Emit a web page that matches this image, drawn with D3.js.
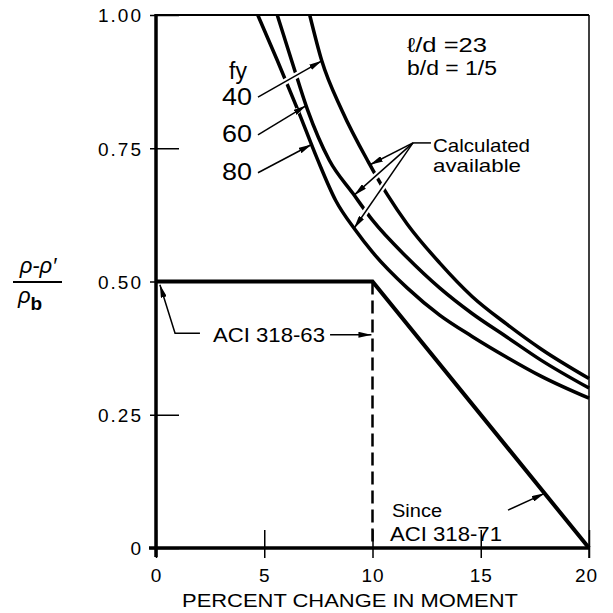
<!DOCTYPE html>
<html>
<head>
<meta charset="utf-8">
<script src="https://cdn.jsdelivr.net/npm/d3@7"></script>
<style>
    body { margin: 0; background: #fff; }
    text { font-family: "Liberation Sans", sans-serif; fill: #000; }
</style>
</head>
<body>
<svg width="613" height="613"></svg>
<script>
var xTicks = [0, 5, 10, 15, 20],
    yTicks = [0, 0.25, 0.5, 0.75, 1.0],
    yTickLabels = ['0', '0.25', '0.50', '0.75', '1.00'];

// calculated available curves
var fy40X = [7.1, 7.65, 8.6, 9.8, 10.7, 11.6, 13.1, 14.6, 16.2, 17.8, 20],
    fy40Y = [1.0, 0.915, 0.82, 0.725, 0.662, 0.608, 0.535, 0.472, 0.42, 0.373, 0.318];
var fy60X = [5.6, 6.3, 7.0, 8.0, 9.1, 10.0, 11.6, 13.1, 14.6, 16.2, 17.8, 20],
    fy60Y = [1.0, 0.91, 0.822, 0.728, 0.665, 0.615, 0.545, 0.488, 0.44, 0.396, 0.352, 0.300];
var fy80X = [4.7, 5.6, 6.55, 7.45, 8.3, 9.2, 10.0, 11.6, 13.1, 14.6, 16.2, 17.8, 20],
    fy80Y = [1.0, 0.915, 0.822, 0.73, 0.652, 0.597, 0.555, 0.488, 0.437, 0.397, 0.358, 0.322, 0.281];

// code limits
var aci71X = [0, 10, 20],
    aci71Y = [0.5, 0.5, 0];
var aci63X = [10, 10],
    aci63Y = [0.5, 0];

var svg = d3.select('svg');

var x = d3.scaleLinear().domain([0, 20]).range([156, 589]),
    y = d3.scaleLinear().domain([0, 1]).range([548, 15]);

function toPoints(xs, ys) {
    return xs.map(function (d, i) { return [d, ys[i]]; });
}

// x on a curve at a given y (for arrow tips)
function xAt(xs, ys, yv) {
    for (var i = 0; i < xs.length - 1; i++) {
        if (ys[i] >= yv && ys[i + 1] <= yv) {
            var t = (ys[i] - yv) / (ys[i] - ys[i + 1]);
            return xs[i] + t * (xs[i + 1] - xs[i]);
        }
    }
    return xs[xs.length - 1];
}

var defs = svg.append('defs');
defs.append('marker')
    .attr('id', 'arrow')
    .attr('viewBox', '0 0 13 6')
    .attr('refX', 13)
    .attr('refY', 3)
    .attr('markerWidth', 13)
    .attr('markerHeight', 6)
    .attr('markerUnits', 'userSpaceOnUse')
    .attr('orient', 'auto')
    .append('path')
    .attr('d', 'M0,0 L13,3 L0,6 Z')
    .attr('fill', '#000');

// frame
svg.append('line')
    .attr('x1', x(0)).attr('x2', x(20))
    .attr('y1', y(1)).attr('y2', y(1))
    .attr('stroke', '#000').attr('stroke-width', 2);
svg.append('line')
    .attr('x1', x(20)).attr('x2', x(20))
    .attr('y1', y(1)).attr('y2', y(0) + 10)
    .attr('stroke', '#000').attr('stroke-width', 1.5);

// axes
var yAxis = svg.append('g')
    .attr('transform', 'translate(' + x(0) + ',0)')
    .call(d3.axisLeft(y).tickValues(yTicks)
        .tickFormat(function (d, i) { return yTickLabels[i]; }));
yAxis.select('.domain').remove();
yAxis.selectAll('.tick line')
    .attr('x1', -6).attr('x2', 23)
    .attr('stroke', '#000').attr('stroke-width', 1.5);
yAxis.selectAll('.tick text')
    .attr('x', -13)
    .attr('dy', '0.36em')
    .style('font-size', '19px')
    .style('letter-spacing', '2px')
    .style('font-family', '"Liberation Sans", sans-serif');

var xAxis = svg.append('g')
    .attr('transform', 'translate(0,' + y(0) + ')')
    .call(d3.axisBottom(x).tickValues(xTicks).tickFormat(d3.format('d')));
xAxis.select('.domain').remove();
xAxis.selectAll('.tick line')
    .attr('y1', -18).attr('y2', 10)
    .attr('stroke', '#000').attr('stroke-width', 1.5);
xAxis.selectAll('.tick text')
    .attr('y', 34).attr('dy', 0)
    .attr('dx', function (d) { return d === 20 ? -3 : 0; })
    .style('font-size', '19px')
    .style('letter-spacing', '1px')
    .style('font-family', '"Liberation Sans", sans-serif');

svg.append('line')
    .attr('x1', x(0)).attr('x2', x(0))
    .attr('y1', y(1) - 1).attr('y2', y(0) + 9)
    .attr('stroke', '#000').attr('stroke-width', 3.5);
svg.append('line')
    .attr('x1', x(0) - 7).attr('x2', x(20))
    .attr('y1', y(0)).attr('y2', y(0))
    .attr('stroke', '#000').attr('stroke-width', 3.5);

// curves
var line = d3.line()
    .x(function (d) { return x(d[0]); })
    .y(function (d) { return y(d[1]); });
var smooth = d3.line()
    .x(function (d) { return x(d[0]); })
    .y(function (d) { return y(d[1]); })
    .curve(d3.curveMonotoneX);

[[fy40X, fy40Y], [fy60X, fy60Y], [fy80X, fy80Y]].forEach(function (c) {
    svg.append('path')
        .attr('d', smooth(toPoints(c[0], c[1])))
        .attr('fill', 'none')
        .attr('stroke', '#000')
        .attr('stroke-width', 3.5);
});

svg.append('path')
    .attr('d', line(toPoints(aci63X, aci63Y)))
    .attr('fill', 'none')
    .attr('stroke', '#000')
    .attr('stroke-width', 2.5)
    .attr('stroke-dasharray', '13,6');

svg.append('path')
    .attr('d', line(toPoints(aci71X, aci71Y)))
    .attr('fill', 'none')
    .attr('stroke', '#000')
    .attr('stroke-width', 4)
    .attr('stroke-linejoin', 'miter');

// leader arrows, with a white gap where they cross the curves
var leaders = [
    [[4.71, 0.846], [xAt(fy40X, fy40Y, 0.914), 0.914]],
    [[4.71, 0.775], [xAt(fy60X, fy60Y, 0.83), 0.83]],
    [[4.71, 0.704], [xAt(fy80X, fy80Y, 0.757), 0.757]],
    [[11.87, 0.76], [xAt(fy40X, fy40Y, 0.719), 0.719]],
    [[11.87, 0.76], [xAt(fy60X, fy60Y, 0.662), 0.662]],
    [[11.87, 0.76], [xAt(fy80X, fy80Y, 0.600), 0.600]],
    [[8.04, 0.40], [9.95, 0.40]],
    [[2.03, 0.403], [0.88, 0.403], [0.18, 0.494]],
    [[16.26, 0.071], [17.95, 0.5 - 0.05 * 7.95]]
];

leaders.forEach(function (pts) {
    var n = pts.length,
        a = [x(pts[n - 2][0]), y(pts[n - 2][1])],
        b = [x(pts[n - 1][0]), y(pts[n - 1][1])],
        len = Math.hypot(b[0] - a[0], b[1] - a[1]),
        k = Math.max(0, (len - 9) / len),
        halo = pts.slice(0, n - 1).map(function (p) { return [x(p[0]), y(p[1])]; });
    halo.push([a[0] + (b[0] - a[0]) * k, a[1] + (b[1] - a[1]) * k]);
    svg.append('path')
        .attr('d', d3.line()(halo))
        .attr('fill', 'none')
        .attr('stroke', '#fff')
        .attr('stroke-width', 6);
});

leaders.forEach(function (pts) {
    svg.append('path')
        .attr('d', line(pts))
        .attr('fill', 'none')
        .attr('stroke', '#000')
        .attr('stroke-width', 1.5)
        .attr('marker-end', 'url(#arrow)');
});

svg.append('line')
    .attr('x1', x(11.87)).attr('x2', x(12.7))
    .attr('y1', y(0.76)).attr('y2', y(0.76))
    .attr('stroke', '#000').attr('stroke-width', 1.5);

// labels
function label(txt, px, py, size, anchor, len) {
    var t = svg.append('text')
        .attr('x', px).attr('y', py)
        .attr('text-anchor', anchor || 'start')
        .style('font-size', size + 'px')
        .text(txt);
    if (len) t.attr('textLength', len).attr('lengthAdjust', 'spacingAndGlyphs');
    return t;
}

label('fy', 238, 79, 23, 'middle');
label('40', 237, 105, 23, 'middle', 30);
label('60', 237, 142, 23, 'middle', 30);
label('80', 237, 180, 23, 'middle', 30);

label('\u2113/d =23', 407, 52, 20, 'start', 80);
label('b/d = 1/5', 407, 75, 20, 'start', 90);

label('Calculated', 433, 152, 19, 'start', 97);
label('available', 433, 172, 19, 'start', 88);

label('ACI 318-63', 213, 342, 20, 'start', 112);
label('Since', 392, 517, 18, 'start', 50);
label('ACI 318-71', 390, 541, 20, 'start', 112);

label('PERCENT CHANGE IN MOMENT', 350, 607, 18, 'middle', 336);

// y axis title as a fraction
var frac = svg.append('g');
frac.append('text')
    .attr('x', 38).attr('y', 273)
    .attr('text-anchor', 'middle')
    .style('font-size', '22px')
    .style('font-style', 'italic')
    .text('\u03c1-\u03c1\u2032');
frac.append('line')
    .attr('x1', 13).attr('x2', 62)
    .attr('y1', 282).attr('y2', 282)
    .attr('stroke', '#000').attr('stroke-width', 2);
var den = frac.append('text')
    .attr('x', 18).attr('y', 303)
    .style('font-size', '22px');
den.append('tspan').style('font-style', 'italic').text('\u03c1');
den.append('tspan').attr('dy', 7).style('font-weight', 'bold').style('font-size', '19px').text('b');
</script>
</body>
</html>
